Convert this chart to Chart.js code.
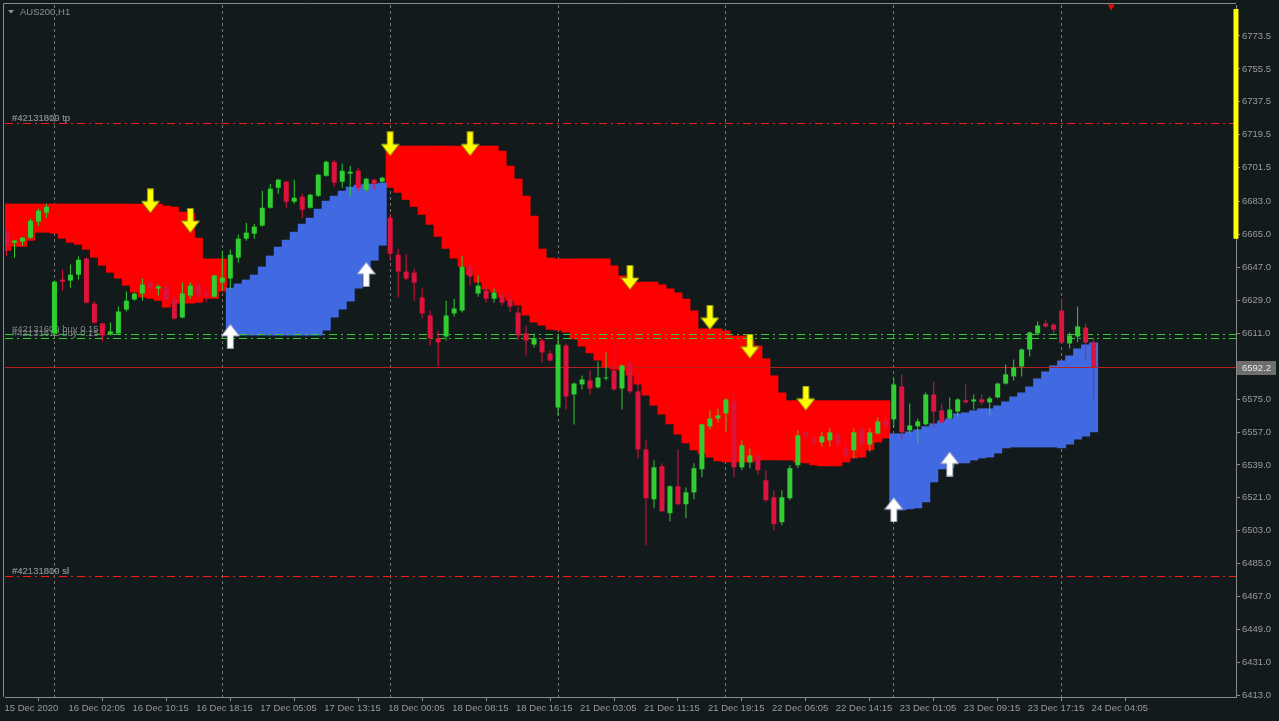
<!DOCTYPE html>
<html><head><meta charset="utf-8">
<script src="https://cdn.jsdelivr.net/npm/chart.js@4.4.1/dist/chart.umd.min.js"></script>
<style>html,body{margin:0;padding:0;background:#131a1c;overflow:hidden}canvas{display:block}</style>
</head><body>
<canvas id="c" width="1279" height="721"></canvas>
<script>
// ---------------- DATA ----------------
const chartTitle = 'AUS200,H1';
const xTickBars = [0,8,16,24,32,40,48,56,64,72,80,88,96,104,112,120,128,136];
const xTickLabels = ['15 Dec 2020','16 Dec 02:05','16 Dec 10:15','16 Dec 18:15','17 Dec 05:05','17 Dec 13:15','18 Dec 00:05','18 Dec 08:15','18 Dec 16:15','21 Dec 03:05','21 Dec 11:15','21 Dec 19:15','22 Dec 06:05','22 Dec 14:15','23 Dec 01:05','23 Dec 09:15','23 Dec 17:15','24 Dec 04:05'];
const gridBars = [6,27,48,69,90,111,132];
const yTickValues = [6413.0,6431.0,6449.0,6467.0,6485.0,6503.0,6521.0,6539.0,6557.0,6575.0,6611.0,6629.0,6647.0,6665.0,6683.0,6701.5,6719.5,6737.5,6755.5,6773.5];

const opens = [6666.5,6660.5,6661.1,6663.2,6672.0,6676.9,6610.9,6640.3,6639.8,6643.0,
6651.8,6627.2,6616.3,6610.3,6610.9,6623.9,6629.4,6632.7,6638.7,6635.4,
6636.5,6629.4,6619.6,6631.6,6637.0,6632.7,6631.0,6638.7,6640.9,6652.3,
6662.7,6665.4,6669.8,6679.6,6690.5,6693.8,6682.9,6685.6,6679.6,6686.1,
6697.1,6704.7,6693.8,6698.2,6699.8,6689.4,6694.9,6693.8,6674.1,6653.9,
6644.7,6644.1,6630.5,6620.7,6608.2,6609.2,6621.8,6623.4,6647.4,6632.7,
6634.3,6629.9,6632.1,6629.4,6622.3,6610.9,6604.8,6607.0,6599.9,6570.4,
6604.3,6577.5,6583.0,6585.2,6581.4,6586.3,6590.6,6580.8,6594.5,6579.2,
6547.5,6520.2,6538.3,6512.6,6527.3,6517.5,6524.0,6536.6,6560.1,6564.4,
6567.2,6573.7,6537.7,6540.4,6544.2,6530.6,6521.3,6507.7,6520.8,6538.8,
6556.8,6553.5,6551.3,6552.4,6555.7,6548.1,6547.0,6559.0,6550.2,6556.2,
6563.3,6563.9,6581.9,6557.9,6560.1,6561.2,6577.5,6568.8,6564.4,6568.2,
6574.3,6573.7,6574.8,6573.2,6575.9,6583.5,6587.4,6592.8,6602.1,6610.9,
6616.3,6615.7,6623.4,6605.4,6609.2,6614.1,6605.9];
const highs = [6667.6,6662.1,6663.8,6673.6,6679.0,6681.8,6639.8,6645.7,6648.5,6652.9,
6652.3,6628.3,6616.8,6616.8,6625.6,6633.8,6633.2,6640.9,6639.2,6637.6,
6638.7,6631.6,6638.7,6638.7,6638.7,6635.9,6643.0,6656.1,6656.7,6664.9,
6671.4,6670.9,6688.9,6692.7,6695.4,6694.3,6694.9,6687.2,6687.2,6698.2,
6705.3,6705.8,6703.6,6702.5,6701.4,6696.0,6695.4,6696.5,6676.3,6657.2,
6654.5,6646.3,6635.4,6623.4,6612.5,6628.8,6629.9,6653.4,6649.6,6642.5,
6637.0,6635.4,6634.3,6632.7,6625.6,6615.2,6610.9,6608.1,6601.6,6609.7,
6605.4,6584.1,6587.9,6590.6,6595.6,6600.5,6607.6,6593.9,6597.7,6589.6,
6552.9,6541.5,6539.9,6527.9,6547.5,6526.8,6539.9,6561.7,6568.8,6569.9,
6575.4,6579.7,6552.4,6548.1,6547.0,6536.1,6525.1,6525.1,6538.8,6557.9,
6559.0,6555.7,6556.8,6559.0,6557.9,6552.4,6559.0,6559.5,6559.0,6565.0,
6566.1,6586.3,6588.5,6572.6,6564.4,6578.6,6584.6,6572.6,6575.9,6575.4,
6583.0,6577.5,6577.5,6576.4,6584.1,6593.9,6596.7,6602.7,6611.9,6617.4,
6618.5,6616.3,6629.9,6611.4,6625.6,6616.3,6608.7];
const lows = [6653.4,6652.3,6658.9,6662.7,6669.8,6674.1,6609.8,6634.3,6635.9,6640.3,
6627.2,6616.3,6606.5,6609.8,6610.3,6622.9,6628.8,6628.8,6633.8,6631.6,
6628.8,6618.5,6619.0,6629.9,6630.5,6628.3,6630.5,6634.3,6634.9,6649.6,
6661.6,6662.7,6669.3,6679.0,6687.2,6679.6,6681.8,6674.1,6679.0,6685.6,
6696.5,6691.1,6690.5,6686.1,6688.9,6688.3,6689.4,6693.3,6650.7,6630.5,
6639.8,6628.8,6619.0,6604.3,6592.8,6607.0,6620.1,6622.3,6637.0,6631.0,
6627.7,6627.7,6626.1,6622.3,6607.0,6598.8,6603.2,6595.0,6595.6,6566.1,
6569.3,6561.1,6580.3,6577.5,6580.8,6585.2,6579.7,6569.3,6578.1,6542.6,
6495.1,6515.3,6513.1,6508.2,6516.9,6509.9,6520.2,6532.2,6558.4,6562.2,
6556.8,6532.2,6536.1,6537.2,6533.3,6518.6,6503.3,6506.0,6519.7,6537.2,
6552.4,6548.1,6549.1,6549.1,6547.0,6541.5,6542.6,6542.6,6546.4,6555.7,
6557.9,6559.5,6553.0,6556.2,6550.8,6560.6,6559.0,6561.7,6563.9,6565.5,
6572.6,6569.3,6572.1,6566.1,6575.4,6583.0,6585.2,6587.4,6598.3,6610.3,
6614.1,6610.9,6605.4,6602.7,6606.0,6596.7,6575.3];
const closes = [6658.9,6661.6,6663.2,6672.5,6678.0,6680.1,6639.2,6639.2,6643.0,6651.2,
6627.7,6616.8,6609.8,6612.0,6622.9,6628.8,6632.7,6637.6,6635.9,6636.5,
6629.4,6619.0,6632.7,6637.0,6631.6,6631.6,6642.5,6641.4,6653.9,6662.7,
6666.0,6669.3,6679.6,6690.0,6694.9,6682.9,6685.1,6678.5,6686.7,6697.6,
6704.7,6693.3,6699.8,6699.3,6690.5,6695.4,6692.7,6696.0,6654.5,6644.7,
6640.9,6638.7,6621.8,6608.2,6606.0,6620.7,6624.5,6647.4,6642.0,6637.0,
6629.9,6633.2,6627.7,6625.6,6609.8,6607.0,6608.2,6600.5,6596.1,6604.8,
6576.4,6583.5,6585.7,6580.8,6586.8,6586.8,6580.3,6593.4,6579.2,6547.5,
6520.8,6537.7,6513.7,6527.3,6517.5,6524.0,6537.2,6561.2,6564.4,6566.1,
6574.8,6537.7,6549.7,6544.2,6536.1,6519.7,6506.6,6521.3,6537.2,6555.2,
6554.6,6551.3,6554.6,6556.8,6550.2,6544.2,6556.8,6549.7,6556.8,6562.8,
6560.1,6583.0,6556.8,6560.6,6562.8,6577.5,6568.2,6562.2,6569.3,6574.8,
6573.2,6574.8,6573.2,6575.4,6583.5,6588.5,6592.3,6602.1,6611.4,6615.2,
6614.7,6613.0,6605.9,6609.8,6614.7,6605.9,6592.2];

// trend band (sell = red, buy = blue) segments
const sellStart1 = 0;
const sellTop1 = [6681.8,6681.8,6681.8,6681.8,6681.8,6681.8,6681.8,6681.8,6681.8,6681.8,6681.8,6681.8,6681.8,6681.8,6681.8,6681.8,6681.8,6681.8,6681.8,6681.8,6680.7,6680.1,6677.4,6676.9,6663.2,6651.8,6651.8,6651.8];
const sellBottom1 = [6656.1,6658.3,6658.3,6661.6,6666.0,6666.0,6665.4,6662.7,6660.5,6659.4,6656.7,6652.3,6648.0,6644.1,6640.9,6637.0,6633.2,6630.5,6629.9,6628.8,6625.0,6627.2,6627.2,6627.2,6627.7,6629.9,6629.9,6633.8];
const buyStart1 = 28;
const buyTop1 = [6635.9,6638.1,6640.3,6643.0,6647.4,6653.4,6658.3,6662.1,6666.5,6670.9,6674.1,6679.0,6683.4,6686.1,6688.9,6691.1,6692.2,6692.7,6692.7,6693.3];
const buyBottom1 = [6609.8,6609.8,6609.8,6609.8,6609.8,6609.8,6609.8,6609.8,6609.8,6609.8,6609.8,6609.8,6612.5,6619.6,6623.9,6628.3,6635.4,6643.6,6650.7,6658.9];
const sellStart2 = 48;
const sellTop2 = [6713.5,6713.5,6713.5,6713.5,6713.5,6713.5,6713.5,6713.5,6713.5,6713.5,6713.5,6713.5,6713.5,6713.5,
6710.7,6702.5,6695.4,6686.1,6675.2,6657.2,6652.3,
6651.8,6651.8,6651.8,6651.8,6651.8,6651.8,6651.8,
6648.0,6642.5,6639.2,6639.2,6639.2,6639.2,6637.6,6635.4,6633.2,6629.9,6623.4,
6613.6,6613.6,6613.6,6612.5,6609.8,6609.8,6607.0,6604.3,6597.2,6587.9,6578.6,
6574.3,6574.3,6574.3,6574.3,6574.3,6574.3,6574.3,6574.3,6574.3,6574.3,6574.3,6574.3,6574.3];
const sellBottom2 = [6690.5,6687.8,6683.9,6680.1,6675.8,6670.3,6663.8,6657.2,6651.8,6647.4,6643.0,6638.7,6634.9,6633.2,
6630.5,6628.8,6626.1,6620.7,6616.8,6615.2,6613.0,
6612.5,6611.4,6607.6,6603.8,6600.0,6596.1,6592.3,
6591.2,6590.6,6587.9,6583.0,6577.0,6571.5,6566.6,6561.2,6555.7,6550.8,6547.0,
6545.3,6543.1,6541.0,6540.4,6540.4,6540.4,6540.4,6541.5,6541.5,6541.5,6541.5,
6541.5,6540.4,6539.9,6538.8,6538.3,6538.3,6538.3,6540.4,6542.6,6543.1,6547.0,6551.3,6553.5];
const buyStart2 = 111;
const buyTop2 = [6556.2,6556.2,6557.3,6558.4,6560.1,6561.7,6563.3,6564.4,6567.2,6567.7,6568.8,6569.9,6569.9,6571.5,6573.7,6576.4,6578.6,6581.9,6586.3,6590.1,6593.4,6596.1,6598.8,6602.7,6604.8,6605.9];
const buyBottom2 = [6514.2,6514.2,6514.8,6515.3,6518.6,6529.5,6536.6,6537.2,6539.9,6539.9,6541.5,6542.6,6543.1,6545.3,6548.1,6548.6,6548.6,6548.6,6548.6,6548.6,6548.6,6548.1,6550.2,6552.9,6554.6,6556.8];

// signal arrows
const sellArrowBars = [18,23,48,58,78,88,93,100];
const sellArrowPrices = [6683.4,6672.6,6714.6,6714.6,6641.5,6619.7,6603.9,6575.5];
const buyArrowBars = [28,45,111,118];
const buyArrowPrices = [6609.3,6643.2,6514.5,6539.5];

// order levels
const levelPrices = [6725.5,6725.5,6610.3,6608.1,6478.2,6478.2];
const levelNames = ['#42131810 tp','#42131809 tp','#42131609 buy 0.15','#42131612 buy 0.15','#42131810 sl','#42131809 sl'];
const levelKinds = ['tp','tp','buy','buy','sl','sl'];
const currentPrice = 6592.2;

// right-edge strength bar and shift marker
const strengthBarBar = 153.81;
const strengthBarRange = [6662.7,6788.2];
const shiftMarkerBar = 138.2;
const shiftMarkerPrice = 6789.6;

// ---------------- STYLE ----------------
const COL = {bg:'#131a1c', text:'#9a9a9a', axis:'#8a8a8a', grid:'#767676', up:'#32cd32', down:'#dc143c',
  sell:'#ff0000', buy:'#4169e1', tp:'#ff1a1a', sl:'#ff1a1a', buyLine:'#32cd32', label:'#7c8488'};
const FONT = '"Liberation Sans", Arial, sans-serif';
const xMin = -0.1875, xMax = 153.8125;
const yMin = 6412.14, yMax = 6790.42;

function seg(start, tops, bottoms){ return tops.map((t,i)=>({x:start+i, y:[bottoms[i], t]})); }
const sellData = seg(sellStart1, sellTop1, sellBottom1).concat(seg(sellStart2, sellTop2, sellBottom2));
const buyData = seg(buyStart1, buyTop1, buyBottom1).concat(seg(buyStart2, buyTop2, buyBottom2));
const barIdx = opens.map((_,i)=>i);
const bodyData = barIdx.map(i=>({x:i, y:[opens[i], closes[i]]}));
const wickData = barIdx.map(i=>({x:i, y:[lows[i], highs[i]]}));
const candleColor = ctx => (closes[ctx.dataIndex] >= opens[ctx.dataIndex] ? COL.up : COL.down);

function makeArrow(fill, edge, down){
  const c = document.createElement('canvas'); c.width = 19; c.height = 25;
  const g = c.getContext('2d');
  if (down){ g.translate(0,25); g.scale(1,-1); }
  g.beginPath();
  g.moveTo(9.5,0.5); g.lineTo(18.5,12); g.lineTo(12.5,12); g.lineTo(12.5,24.5);
  g.lineTo(6.5,24.5); g.lineTo(6.5,12); g.lineTo(0.5,12); g.closePath();
  g.fillStyle = fill; g.fill();
  g.lineWidth = 1; g.strokeStyle = edge; g.stroke();
  return c;
}
const yellowArrow = makeArrow('#ffff00', '#8c8c10', true);
const whiteArrow = makeArrow('#ffffff', '#9aa0b8', false);

const mt4Plugin = {
  id: 'mt4',
  beforeDraw(chart){
    const {ctx, width, height} = chart;
    ctx.save(); ctx.fillStyle = COL.bg; ctx.fillRect(0,0,width,height); ctx.restore();
  },
  beforeDatasetsDraw(chart){
    const {ctx, chartArea:a, scales:{x}} = chart;
    ctx.save(); ctx.strokeStyle = COL.grid; ctx.lineWidth = 1; ctx.setLineDash([3,3]);
    gridBars.forEach(b=>{
      const px = Math.floor(x.getPixelForValue(b)) + 0.5;
      ctx.beginPath(); ctx.moveTo(px, a.top); ctx.lineTo(px, a.bottom); ctx.stroke();
    });
    ctx.restore();
  },
  afterDatasetDraw(chart, args){
    if (args.index !== 1) return;
    const {ctx, chartArea:a, scales:{y}} = chart;
    ctx.save();
    const cy = Math.floor(y.getPixelForValue(currentPrice)) + 0.5;
    ctx.strokeStyle = '#b82020'; ctx.lineWidth = 1;
    ctx.beginPath(); ctx.moveTo(a.left, cy); ctx.lineTo(a.right, cy); ctx.stroke();
    levelPrices.forEach((p,i)=>{
      const py = Math.floor(y.getPixelForValue(p)) + 0.5;
      const col = levelKinds[i]==='buy' ? COL.buyLine : COL.tp;
      ctx.strokeStyle = col; ctx.setLineDash([8,4,2,4]);
      ctx.beginPath(); ctx.moveTo(a.left, py); ctx.lineTo(a.right, py); ctx.stroke();
    });
    ctx.setLineDash([]);
    ctx.font = '9.5px ' + FONT; ctx.fillStyle = COL.label; ctx.textBaseline = 'middle'; ctx.textAlign = 'left';
    levelPrices.forEach((p,i)=>{
      const py = y.getPixelForValue(p);
      ctx.fillText(levelNames[i], 12, py - 5);
    });
    ctx.restore();
  },
  afterDraw(chart){
    const {ctx, chartArea:a, scales:{y}} = chart;
    ctx.save();
    ctx.strokeStyle = '#8a8a8a'; ctx.lineWidth = 1;
    ctx.beginPath(); ctx.moveTo(3.5, a.bottom); ctx.lineTo(3.5, 3.5); ctx.lineTo(a.right, 3.5); ctx.stroke();
    ctx.fillStyle = '#8a949c';
    ctx.beginPath(); ctx.moveTo(8,10); ctx.lineTo(14,10); ctx.lineTo(11,13.5); ctx.closePath(); ctx.fill();
    ctx.font = '9.5px ' + FONT; ctx.textBaseline = 'middle'; ctx.textAlign = 'left';
    ctx.fillText(chartTitle, 20, 12.5);
    const cy = Math.round(y.getPixelForValue(currentPrice));
    ctx.fillStyle = '#6e6e6e'; ctx.fillRect(a.right + 1, cy - 7, 39, 14);
    ctx.fillStyle = '#e8e8e8'; ctx.fillText(currentPrice.toFixed(1), a.right + 6, cy + 0.5);
    ctx.restore();
  }
};

Chart.defaults.font.family = FONT;
new Chart(document.getElementById('c'), {
  plugins: [mt4Plugin],
  data: {
    datasets: [
      {type:'bar', label:'sellBand', data: sellData, backgroundColor: COL.sell, grouped:false, barPercentage:1.125, categoryPercentage:1, borderWidth:0, inflateAmount:0, order:11},
      {type:'bar', label:'buyBand', data: buyData, backgroundColor: COL.buy, grouped:false, barPercentage:1.125, categoryPercentage:1, borderWidth:0, inflateAmount:0, order:10},
      {type:'bar', label:'wick', data: wickData, backgroundColor: candleColor, grouped:false, barThickness:1, borderWidth:0, inflateAmount:0, minBarLength:1, order:6},
      {type:'bar', label:'body', data: bodyData, backgroundColor: candleColor, grouped:false, barThickness:5, borderWidth:0, inflateAmount:0, minBarLength:1, order:5},
      {type:'scatter', label:'sell', data: sellArrowBars.map((b,i)=>({x:b, y:sellArrowPrices[i]})), pointStyle: yellowArrow, order:2, clip:false},
      {type:'scatter', label:'buy', data: buyArrowBars.map((b,i)=>({x:b, y:buyArrowPrices[i]})), pointStyle: whiteArrow, order:2, clip:false},
      {type:'line', label:'strength', data: strengthBarRange.map(v=>({x:strengthBarBar, y:v})), borderColor:'#ffff00', borderWidth:5, pointRadius:0, borderCapStyle:'butt', clip:false, order:1},
      {type:'scatter', label:'shift', data:[{x:shiftMarkerBar, y:shiftMarkerPrice}], pointStyle:'triangle', rotation:180, radius:4, backgroundColor:'#e01010', borderWidth:0, clip:false, order:1}
    ]
  },
  options: {
    responsive:false, animation:false, devicePixelRatio:1, events:[],
    layout:{padding:{left:4, top:4, right:0, bottom:0}},
    plugins:{legend:{display:false}, tooltip:{enabled:false}},
    scales:{
      x:{type:'linear', min:xMin, max:xMax, bounds:'data', offset:false,
        afterBuildTicks: s => { s.ticks = xTickBars.map(v=>({value:v})); },
        afterFit: s => { s.height = 24; s.paddingLeft = 0; s.paddingRight = 0; },
        ticks:{autoSkip:false, maxRotation:0, minRotation:0, align:'start', padding:2, labelOffset:-2, color:COL.text, font:{size:9.5},
          callback: v => xTickLabels[xTickBars.indexOf(v)]},
        grid:{display:true, drawOnChartArea:false, drawTicks:true, tickLength:4, color:COL.axis},
        border:{display:true, color:COL.axis}
      },
      y:{type:'linear', position:'right', min:yMin, max:yMax, bounds:'data',
        afterBuildTicks: s => { s.ticks = yTickValues.map(v=>({value:v})); },
        afterFit: s => { s.width = 43; s.paddingTop = 0; s.paddingBottom = 0; },
        ticks:{autoSkip:false, padding:2, color:COL.text, font:{size:9.5}, callback: v => Number(v).toFixed(1)},
        grid:{display:true, drawOnChartArea:false, drawTicks:true, tickLength:4, color:COL.axis},
        border:{display:true, color:COL.axis}
      }
    }
  }
});
</script>
</body></html>
